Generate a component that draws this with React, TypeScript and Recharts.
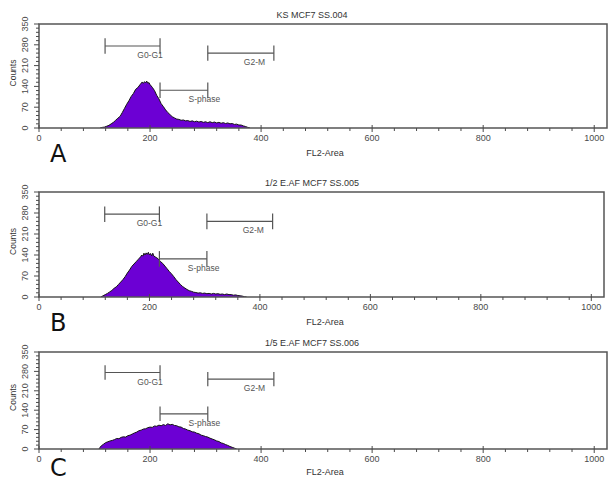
import React from "react";
import { AreaChart, Area, XAxis, YAxis, ReferenceArea, ReferenceLine, ReferenceDot } from "recharts";

// ---- data ----
const fl2A = [110, 114, 118, 122, 126, 130, 134, 138, 142, 146, 150, 154, 158, 162, 166, 170, 174, 178, 182, 186, 188, 190, 192, 194, 196, 198, 200, 204, 208, 212, 216, 220, 224, 228, 232, 236, 240, 244, 248, 252, 256, 260, 264, 268, 272, 276, 280, 284, 288, 292, 296, 300, 304, 308, 312, 316, 320, 324, 328, 332, 336, 340, 344, 348, 352, 356, 360, 364, 368, 372, 376, 380];
const countsA = [0, 2, 3, 6, 9, 14, 19, 26, 33, 39, 52, 66, 80, 92, 106, 116, 130, 136, 146, 155, 150, 156, 152, 158, 150, 153, 146, 137, 126, 110, 98, 82, 72, 61, 52, 45, 38, 34, 30, 29, 26, 27, 24, 25, 22, 24, 21, 23, 20, 22, 19, 21, 18, 21, 18, 20, 17, 19, 16, 18, 15, 17, 14, 15, 12, 13, 10, 10, 7, 5, 2, 0];

const fl2B = [112, 116, 120, 124, 128, 132, 136, 140, 144, 148, 152, 156, 160, 164, 168, 172, 176, 180, 184, 186, 188, 190, 192, 194, 196, 198, 200, 202, 204, 206, 208, 212, 216, 220, 224, 228, 232, 236, 240, 244, 248, 252, 256, 260, 264, 268, 272, 276, 280, 284, 288, 292, 296, 300, 304, 308, 312, 316, 320, 324, 328, 332, 336, 340, 344, 348, 352, 356, 360, 364, 368, 372, 376];
const countsB = [0, 4, 8, 12, 17, 22, 29, 34, 42, 50, 58, 68, 80, 90, 102, 110, 118, 126, 134, 140, 136, 146, 140, 147, 142, 149, 140, 145, 137, 146, 136, 132, 127, 118, 112, 103, 94, 85, 77, 68, 58, 50, 42, 35, 30, 25, 21, 19, 16, 15, 13, 14, 12, 13, 11, 12, 10, 12, 10, 11, 9, 10, 8, 10, 8, 8, 6, 7, 5, 4, 3, 1, 0];

const fl2C = [108, 110, 112, 116, 120, 124, 128, 132, 136, 140, 144, 148, 152, 156, 160, 164, 168, 172, 176, 180, 184, 188, 192, 196, 200, 204, 208, 212, 216, 220, 224, 228, 232, 236, 240, 244, 248, 252, 256, 260, 264, 268, 272, 276, 280, 284, 288, 292, 296, 300, 304, 308, 312, 316, 320, 324, 328, 332, 336, 340, 344, 348, 352, 356];
const countsC = [0, 6, 11, 17, 23, 26, 29, 31, 34, 38, 37, 42, 44, 43, 48, 50, 54, 58, 61, 66, 68, 72, 73, 77, 79, 78, 83, 82, 86, 84, 88, 85, 91, 87, 89, 85, 84, 80, 79, 74, 72, 68, 66, 62, 61, 57, 55, 50, 48, 45, 43, 39, 36, 33, 29, 27, 22, 20, 16, 13, 9, 6, 3, 0];

const titles = ["KS MCF7 SS.004", "1/2 E.AF MCF7 SS.005", "1/5 E.AF MCF7 SS.006"];
const panelLetters = ["A", "B", "C"];

const xTickLabels = [0, 200, 400, 600, 800, 1000];
const yTickLabels = [0, 70, 140, 210, 280, 350];
const xMinorStep = 40;
const yMinorStep = 14;

const gateNames = ["G0-G1", "G2-M", "S-phase"];
const gateStart = [119, 304, 218];
const gateEnd = [218, 423, 304];
const gateLevel = [276, 252, 127];
const gateLabelX = [200, 388, 298];

const X_MAX = 1023;
const Y_MAX = 350;

const xTicks = Array.from({ length: 1000 / xMinorStep + 1 }, (_, i) => i * xMinorStep);
const yTicks = Array.from({ length: Math.round(Y_MAX / yMinorStep) + 1 }, (_, i) => i * yMinorStep);

const FONT = "'Liberation Sans', Arial, sans-serif";
const GRAY = "#4a4a4a";
const PURPLE = "#6c00d4";

const build = (xs: number[], cs: number[]) => xs.map((x, i) => ({ x, c: cs[i] }));

const XTick = (props: any) => {
  const { x, y, payload } = props;
  const v = payload.value;
  const major = xTickLabels.includes(v);
  return (
    <g>
      <line x1={x} x2={x} y1={major ? y - 3 : y} y2={major ? y + 4 : y + 3} stroke={GRAY} strokeWidth={1} />
      {major && (
        <text x={x} y={y + 13} textAnchor="middle" fontSize={9} fill={GRAY} fontFamily={FONT}>
          {v}
        </text>
      )}
    </g>
  );
};

const YTick = (props: any) => {
  const { x, y, payload } = props;
  const v = payload.value;
  const major = yTickLabels.includes(v);
  return (
    <g>
      <line x1={major ? x - 5 : x - 3} x2={x} y1={y} y2={y} stroke={GRAY} strokeWidth={1} />
      {major && (
        <text
          x={x - 11}
          y={y}
          textAnchor="middle"
          fontSize={9}
          fill={GRAY}
          fontFamily={FONT}
          transform={`rotate(-90, ${x - 11}, ${y})`}
        >
          {v}
        </text>
      )}
    </g>
  );
};

const GateLabel = (text: string) => (props: any) => {
  const vb = props.viewBox || {};
  const cx = (vb.x || 0) + (vb.width || 0) / 2;
  const cy = (vb.y || 0) + (vb.height || 0) / 2;
  return (
    <text x={cx} y={cy + 12} textAnchor="middle" fontSize={8.5} fill="#555" fontFamily={FONT}>
      {text}
    </text>
  );
};

type PanelProps = {
  top: number;
  height: number;
  plotTop: number;
  plotBottom: number;
  plotRight: number;
  data: { x: number; c: number }[];
};

const Panel = ({ top, height, plotTop, plotBottom, plotRight, data }: PanelProps) => {
  const W = 609;
  const xAxisH = 20;
  const yAxisW = 30;
  const margin = {
    top: plotTop,
    right: W - plotRight,
    bottom: height - plotBottom - xAxisH,
    left: 39 - yAxisW,
  };
  const capH = 26;
  return (
    <div style={{ position: "absolute", left: 0, top }}>
      <AreaChart width={W} height={height} data={data} margin={margin}>
        <XAxis
          type="number"
          dataKey="x"
          domain={[0, X_MAX]}
          ticks={xTicks}
          interval={0}
          height={xAxisH}
          tickSize={0}
          tickMargin={0}
          tickLine={false}
          axisLine={false}
          tick={<XTick />}
          allowDataOverflow
        />
        <YAxis
          type="number"
          domain={[0, Y_MAX]}
          ticks={yTicks}
          interval={0}
          width={yAxisW}
          tickSize={0}
          tickMargin={0}
          tickLine={false}
          axisLine={false}
          tick={<YTick />}
          allowDataOverflow
        />
        <Area
          type="linear"
          dataKey="c"
          stroke="#151515"
          strokeWidth={1}
          fill={PURPLE}
          fillOpacity={1}
          isAnimationActive={false}
        />
        <ReferenceArea x1={0} x2={X_MAX} y1={0} y2={Y_MAX} fill="none" stroke="#555" strokeWidth={1.5} />
        {gateNames.map((g, i) => (
          <React.Fragment key={g}>
            <ReferenceLine
              segment={[
                { x: gateStart[i], y: gateLevel[i] },
                { x: gateEnd[i], y: gateLevel[i] },
              ]}
              stroke="#555"
              strokeWidth={1.2}
            />
            <ReferenceLine
              segment={[
                { x: gateStart[i], y: gateLevel[i] - capH },
                { x: gateStart[i], y: gateLevel[i] + capH },
              ]}
              stroke="#555"
              strokeWidth={1.2}
            />
            <ReferenceLine
              segment={[
                { x: gateEnd[i], y: gateLevel[i] - capH },
                { x: gateEnd[i], y: gateLevel[i] + capH },
              ]}
              stroke="#555"
              strokeWidth={1.2}
            />
            <ReferenceDot
              x={gateLabelX[i]}
              y={gateLevel[i]}
              r={0}
              fill="none"
              stroke="none"
              label={{ content: GateLabel(g) }}
            />
          </React.Fragment>
        ))}
      </AreaChart>
    </div>
  );
};

const dataA = build(fl2A, countsA);
const dataB = build(fl2B, countsB);
const dataC = build(fl2C, countsC);

const panels = [
  { top: 0, height: 160, plotTop: 24, plotBottom: 128, plotRight: 607, data: dataA },
  { top: 160, height: 160, plotTop: 32, plotBottom: 137, plotRight: 604, data: dataB },
  { top: 320, height: 157, plotTop: 32, plotBottom: 129, plotRight: 607, data: dataC },
];

export default function App() {
  return (
    <div
      style={{
        position: "absolute",
        left: 0,
        top: 0,
        width: 609,
        height: 477,
        background: "#fff",
        overflow: "hidden",
        fontFamily: FONT,
      }}
    >
      {panels.map((p, i) => (
        <Panel key={i} {...p} />
      ))}
      <svg width={609} height={477} style={{ position: "absolute", left: 0, top: 0, pointerEvents: "none" }}>
        {panels.map((p, i) => {
          const top = p.top + p.plotTop;
          const bottom = p.top + p.plotBottom;
          const mid = (top + bottom) / 2;
          return (
            <g key={i}>
              <text x={312} y={top - 6} textAnchor="middle" fontSize={9} fill="#333" fontFamily={FONT}>
                {titles[i]}
              </text>
              <text x={325} y={Math.min(bottom + 28, 475)} textAnchor="middle" fontSize={9} fill="#333" fontFamily={FONT}>
                FL2-Area
              </text>
              <text x={50} y={Math.min(bottom + 34, 476)} fontSize={24} fill="#111" fontFamily="'DejaVu Sans', sans-serif">
                {panelLetters[i]}
              </text>
              <text
                x={16}
                y={mid - 3}
                textAnchor="middle"
                fontSize={8.5}
                fill="#333"
                fontFamily={FONT}
                transform={`rotate(-90, 16, ${mid - 3})`}
              >
                Counts
              </text>
            </g>
          );
        })}
      </svg>
    </div>
  );
}
